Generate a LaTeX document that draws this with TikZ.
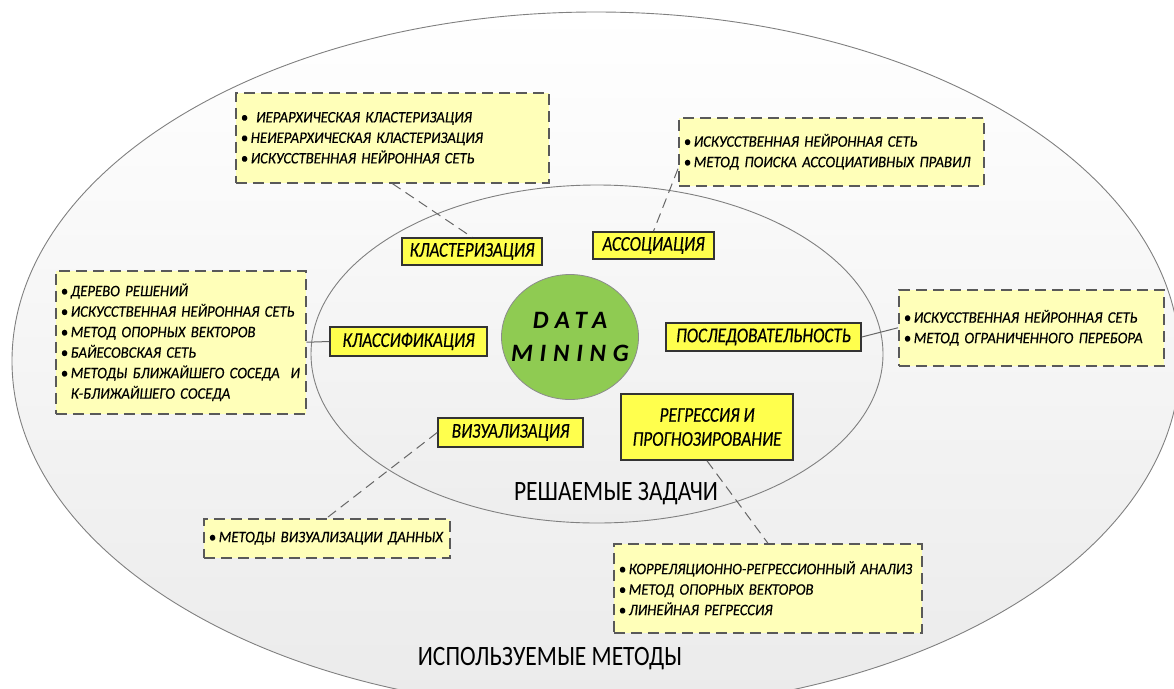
\documentclass[tikz,border=0pt]{standalone}
\usepackage{fontspec}
\setmainfont{Carlito}
\newfontfamily\boxfont[FakeStretch=0.92, WordSpace=0.75, FakeBold=0.3]{Carlito}
\newfontfamily\taskfont[FakeStretch=0.82, FakeBold=0.3]{Carlito}
\newfontfamily\zonefont[FakeStretch=0.84]{Carlito}
\newfontfamily\dmfont[LetterSpace=27]{Carlito}
\usepackage{tikz}
\usetikzlibrary{shapes.geometric, positioning}

\definecolor{taskyellow}{HTML}{FFFF4D}
\definecolor{methyellow}{HTML}{FFFFB9}
\definecolor{dmgreen}{HTML}{8FCB52}
\newcommand{\bul}{\textbullet\,}

\begin{document}
\begin{tikzpicture}[
  x=1pt, y=-1pt,
  every node/.style={font=\boxfont\itshape\fontsize{16}{20.5}\selectfont},
  zone/.style={ellipse, draw=black!50, line width=0.9pt, inner sep=0pt,
    top color=white, bottom color=black!8},
  task/.style={rectangle, draw=black!80, line width=1.6pt, fill=taskyellow,
    inner sep=0pt, align=center, font=\taskfont\itshape\fontsize{21}{24}\selectfont},
  meth/.style={rectangle, draw=black!65, line width=1.5pt, dash pattern=on 11pt off 6pt,
    fill=methyellow, align=left, inner xsep=5pt, inner ysep=0pt, anchor=north west},
  link/.style={draw=black!60, line width=1pt, dash pattern=on 10pt off 6pt},
  plain/.style={draw=black!60, line width=1pt},
  zonetitle/.style={font=\zonefont\upshape\fontsize{28}{30}\selectfont}
]
\useasboundingbox (0,0) rectangle (1174,688);

% ---- ZONES ----
\node[zone, minimum width=1168, minimum height=698] (outer) at (596,361) {};
\node[zone, minimum width=572, minimum height=338, top color=black!2, bottom color=black!7] (inner) at (597,354) {};
\node[zonetitle] (tasks) at (616,494) {РЕШАЕМЫЕ ЗАДАЧИ};
\node[zonetitle] (methods) at (550,659) {ИСПОЛЬЗУЕМЫЕ МЕТОДЫ};

% ---- DATA MINING ----
\node[ellipse, draw=black!45, line width=0.8pt, fill=dmgreen, inner xsep=-20pt, inner ysep=-20pt,
  minimum width=137, minimum height=125, align=center,
  font=\dmfont\bfseries\itshape\fontsize{25}{33}\selectfont]
  (dm) at (570,337) {DATA\\MINING};

% ---- ЗАДАЧИ ----
\node[task, minimum width=140, minimum height=27] (klast) at (472,251.5) {КЛАСТЕРИЗАЦИЯ};
\node[task, minimum width=121, minimum height=27] (assoc) at (653.5,245.5) {АССОЦИАЦИЯ};
\node[task, minimum width=157, minimum height=29] (klass) at (408.5,341.5) {КЛАССИФИКАЦИЯ};
\node[task, minimum width=195, minimum height=28] (posl) at (763.5,337) {ПОСЛЕДОВАТЕЛЬНОСТЬ};
\node[task, minimum width=145, minimum height=29] (viz) at (510.5,432.5) {ВИЗУАЛИЗАЦИЯ};
\node[task, minimum width=172, minimum height=66] (regr) at (707,427) {РЕГРЕССИЯ И\\ПРОГНОЗИРОВАНИЕ};

% ---- МЕТОДЫ ----
\node[meth, text width=303, minimum height=90] (klastm) at (235,92)
  {\bul\ ИЕРАРХИЧЕСКАЯ КЛАСТЕРИЗАЦИЯ\\\bul НЕИЕРАРХИЧЕСКАЯ КЛАСТЕРИЗАЦИЯ\\\bul ИСКУССТВЕННАЯ НЕЙРОННАЯ СЕТЬ};
\node[meth, text width=295, minimum height=68] (assocm) at (678,117)
  {\bul ИСКУССТВЕННАЯ НЕЙРОННАЯ СЕТЬ\\\bul МЕТОД ПОИСКА АССОЦИАТИВНЫХ ПРАВИЛ};
\node[meth, text width=240, minimum height=143] (klassm) at (55,270)
  {\bul ДЕРЕВО РЕШЕНИЙ\\\bul ИСКУССТВЕННАЯ НЕЙРОННАЯ СЕТЬ\\\bul МЕТОД ОПОРНЫХ ВЕКТОРОВ\\
   \bul БАЙЕСОВСКАЯ СЕТЬ\\\bul МЕТОДЫ БЛИЖАЙШЕГО СОСЕДА\ \ И\\\phantom{\bul}К-БЛИЖАЙШЕГО СОСЕДА};
\node[meth, text width=255, minimum height=76] (poslm) at (898,289)
  {\bul ИСКУССТВЕННАЯ НЕЙРОННАЯ СЕТЬ\\\bul МЕТОД ОГРАНИЧЕННОГО ПЕРЕБОРА};
\node[meth, text width=236, minimum height=39] (vizm) at (203,518)
  {\bul МЕТОДЫ ВИЗУАЛИЗАЦИИ ДАННЫХ};
\node[meth, text width=298, minimum height=89] (regrm) at (613,543)
  {\bul КОРРЕЛЯЦИОННО-РЕГРЕССИОННЫЙ АНАЛИЗ\\\bul МЕТОД ОПОРНЫХ ВЕКТОРОВ\\\bul ЛИНЕЙНАЯ РЕГРЕССИЯ};

% ---- СВЯЗИ ----
\draw[link] (klastm.south) -- (klast.north);
\draw[link] ([yshift=-17pt]assocm.west) -- (assoc.north);
\draw[plain] (klassm.east) -- (klass.west);
\draw[plain] (posl.east) -- (poslm.west);
\draw[link] (viz.west) -- (vizm.north);
\draw[link] (regr.south) -- (regrm.north);
\end{tikzpicture}
\end{document}
